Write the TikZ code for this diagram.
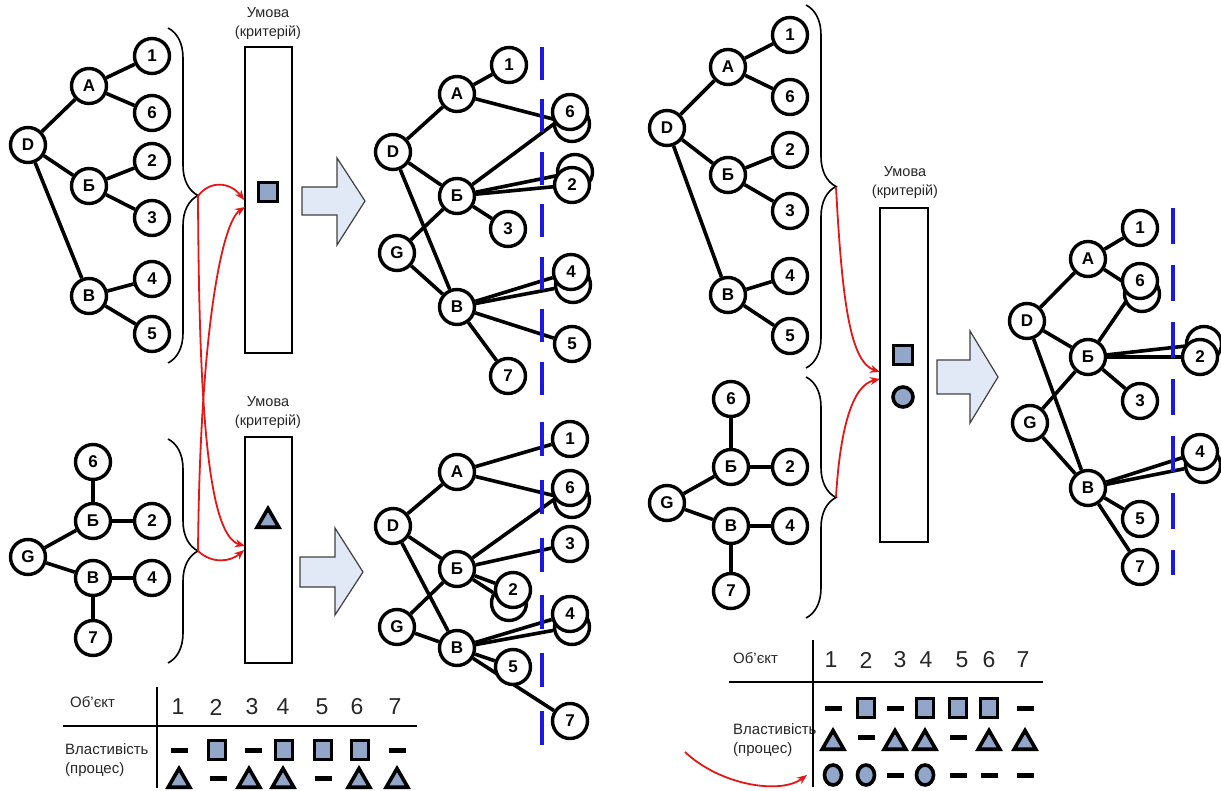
\documentclass[tikz,border=0pt]{standalone}
\usepackage{fontspec}
\setmainfont{Liberation Sans}
\usetikzlibrary{shapes.geometric,decorations.pathreplacing,backgrounds,arrows.meta}
\definecolor{synij}{RGB}{25,25,225}
\definecolor{syzyi}{RGB}{146,166,202}
\definecolor{blakyt}{RGB}{226,233,246}
\definecolor{chervonyi}{RGB}{228,22,22}

\begin{document}
\begin{tikzpicture}[x=1pt,y=-1pt]
\tikzset{vuzol/.style={draw, circle, line width=3.4pt, fill=white, minimum size=35pt, inner sep=0pt, font=\fontsize{17}{17}\selectfont\bfseries},
  vitka/.style={line width=3.6pt},
  ramka/.style={draw, line width=1.5pt, fill=white, minimum width=47pt, inner sep=0pt},
  pidpys/.style={align=center, inner sep=0pt, text=black!85, font=\fontsize{14.5}{19}\selectfont},
  napys/.style={anchor=west, align=left, inner sep=0pt, text=black!85, font=\fontsize{15}{19}\selectfont},
  chyslo/.style={inner sep=0pt, text=black!85, font=\fontsize{23}{23}\selectfont},
  kvadrat/.style={draw, fill=syzyi, line width=3.6pt, minimum width=17pt, minimum height=19pt, inner sep=0pt},
  trykutnyk/.style={draw, fill=syzyi, line width=3.6pt, regular polygon, regular polygon sides=3, minimum size=25pt, inner sep=0pt},
  kolo/.style={draw, fill=syzyi, line width=3.6pt, ellipse, minimum width=17pt, minimum height=20pt, inner sep=0pt},
  rysochka/.style={fill=black, minimum width=17pt, minimum height=5pt, inner sep=0pt},
  duzhka/.style={decorate, decoration={brace, amplitude=30pt}, line width=1.6pt},
  chervona/.style={draw=chervonyi, line width=1.8pt, -{Stealth[length=10pt, width=8pt]}},
  mezha/.style={draw=synij, line width=4pt, dash pattern=on 33pt off 19.5pt},
  strilka/.style={draw=black!75, line width=1.2pt, fill=blakyt},
  liniia/.style={line width=2pt}}
\useasboundingbox (0,0) rectangle (1221,791);

% left: tree D
\node[vuzol] (aD) at (28,145) {D};
\node[vuzol] (aA) at (89,86) {А};
\node[vuzol] (aB) at (89,186) {Б};
\node[vuzol] (aV) at (89,296) {В};
\node[vuzol] (a1) at (152,56) {1};
\node[vuzol] (a6) at (152,113) {6};
\node[vuzol] (a2) at (152,161) {2};
\node[vuzol] (a3) at (152,218) {3};
\node[vuzol] (a4) at (152,279) {4};
\node[vuzol] (a5) at (152,334) {5};
% left: tree G
\node[vuzol] (bG) at (28,557) {G};
\node[vuzol] (b6) at (93,462) {6};
\node[vuzol] (bB) at (93,521) {Б};
\node[vuzol] (bV) at (93,578) {В};
\node[vuzol] (b7) at (93,638) {7};
\node[vuzol] (b2) at (152,521) {2};
\node[vuzol] (b4) at (152,578) {4};

\draw[duzhka] (168,28) -- (168,363);
\draw[duzhka] (168,439) -- (168,663);
\coordinate (vershyna1) at (198,196);
\coordinate (vershyna2) at (198,551);

% criteria
\node[pidpys] (um1) at (268,24) {Умова\\(критерій)};
\node[ramka, minimum height=306pt] (kr1) at (268.5,200) {};
\node[kvadrat, minimum width=19pt] (kr1s) at (268,192) {};
\node[pidpys] (um2) at (268,413) {Умова\\(критерій)};
\node[ramka, minimum height=226pt] (kr2) at (268.5,550) {};
\node[trykutnyk] (kr2t) at (268,521) {};
\coordinate (vhid1) at (245,207);
\coordinate (vhid2) at (245,546);
\draw[chervona] (vershyna1) .. controls (210,180) and (230,182) .. (kr1.west);
\draw[chervona] (vershyna1) .. controls (199,400) and (207,535) .. (vhid2);
\draw[chervona] (vershyna2) .. controls (200,330) and (222,222) .. (vhid1);
\draw[chervona] (vershyna2) .. controls (212,564) and (230,562) .. (kr2.west);

\draw[strilka] (302,187) -- (337,187) -- (337,158) -- (365,201) -- (337,245) -- (337,215) -- (302,215) -- cycle;
\draw[strilka] (300,557) -- (335,557) -- (335,528) -- (363,572) -- (335,615) -- (335,587) -- (300,587) -- cycle;

% result by square
\node[vuzol] (cD) at (393,152) {D};
\node[vuzol] (cG) at (397,253) {G};
\node[vuzol] (cA) at (457,94) {А};
\node[vuzol] (cB) at (457,196) {Б};
\node[vuzol] (cV) at (457,307) {В};
\node[vuzol] (c1) at (509,65) {1};
\node[vuzol] (c3) at (508,229) {3};
\node[vuzol] (c7) at (508,376) {7};
\node[vuzol] (c6x) at (572,124) {};
\node[vuzol] (c6) at (570,112) {6};
\node[vuzol] (c2x) at (575,172) {};
\node[vuzol] (c2) at (572,185) {2};
\node[vuzol] (c4x) at (573,285) {};
\node[vuzol] (c4) at (571,272) {4};
\node[vuzol] (c5) at (572,344) {5};
\draw[mezha] (542,47) -- (542,395);

% result by triangle
\node[vuzol] (dD) at (393,526) {D};
\node[vuzol] (dG) at (397,627) {G};
\node[vuzol] (dA) at (457,472) {А};
\node[vuzol] (dB) at (457,569) {Б};
\node[vuzol] (dV) at (457,648) {В};
\node[vuzol] (d1) at (570,439) {1};
\node[vuzol] (d6x) at (572,500) {};
\node[vuzol] (d6) at (570,488) {6};
\node[vuzol] (d3) at (570,544) {3};
\node[vuzol] (d2x) at (509,603) {};
\node[vuzol] (d2) at (513,590) {2};
\node[vuzol] (d4x) at (572,627) {};
\node[vuzol] (d4) at (570,614) {4};
\node[vuzol] (d5) at (513,667) {5};
\node[vuzol] (d7) at (570,721) {7};
\draw[mezha, dash pattern=on 34pt off 23.8pt] (542,422) -- (542,745);

% left table
\node[napys] (ob1) at (70,702) {Об’єкт};
\node[napys] (vl1) at (65,760) {Властивість\\(процес)};
\draw[liniia] (63,726) -- (417,726);
\draw[liniia] (157,687) -- (157,788);
\node[chyslo] (n1) at (178,707) {1}; \node[chyslo] (n2) at (216,707) {2};
\node[chyslo] (n3) at (252,707) {3}; \node[chyslo] (n4) at (283,707) {4};
\node[chyslo] (n5) at (322,707) {5}; \node[chyslo] (n6) at (357,707) {6};
\node[chyslo] (n7) at (395,707) {7};
\node[rysochka] (k1) at (179,750) {}; \node[kvadrat] (k2) at (217,750) {};
\node[rysochka] (k3) at (253,750) {}; \node[kvadrat] (k4) at (284,750) {};
\node[kvadrat] (k5) at (323,750) {}; \node[kvadrat] (k6) at (360,750) {};
\node[rysochka] (k7) at (397,750) {};
\node[trykutnyk] (t1) at (179,781) {}; \node[rysochka] (t2) at (218,778) {};
\node[trykutnyk] (t3) at (249,781) {}; \node[trykutnyk] (t4) at (283,781) {};
\node[rysochka] (t5) at (323,778) {}; \node[trykutnyk] (t6) at (359,781) {};
\node[trykutnyk] (t7) at (397,781) {};

% right: tree D
\node[vuzol] (eD) at (667,128) {D};
\node[vuzol] (eA) at (728,67) {А};
\node[vuzol] (eB) at (728,175) {Б};
\node[vuzol] (eV) at (728,295) {В};
\node[vuzol] (e1) at (790,35) {1};
\node[vuzol] (e6) at (790,97) {6};
\node[vuzol] (e2) at (790,150) {2};
\node[vuzol] (e3) at (790,211) {3};
\node[vuzol] (e4) at (790,276) {4};
\node[vuzol] (e5) at (790,336) {5};
% right: tree G
\node[vuzol] (fG) at (667,503) {G};
\node[vuzol] (f6) at (731,399) {6};
\node[vuzol] (fB) at (731,467) {Б};
\node[vuzol] (fV) at (731,526) {В};
\node[vuzol] (f7) at (731,591) {7};
\node[vuzol] (f2) at (790,467) {2};
\node[vuzol] (f4) at (790,526) {4};

\draw[duzhka] (806,5) -- (806,368);
\draw[duzhka] (806,377) -- (806,618);
\coordinate (vershyna3) at (836,187);
\coordinate (vershyna4) at (836,497);

\node[pidpys] (um3) at (905,183) {Умова\\(критерій)};
\node[ramka, minimum width=48pt, minimum height=334pt] (kr3) at (904,375) {};
\node[kvadrat, minimum width=19pt] (kr3s) at (903,355) {};
\node[kolo, minimum width=20pt, minimum height=20pt] (kr3k) at (903,397) {};
\coordinate (vhid3) at (880,372);
\coordinate (vhid4) at (880,379);
\draw[chervona] (vershyna3) .. controls (842,300) and (850,362) .. (vhid3);
\draw[chervona] (vershyna4) .. controls (840,430) and (852,385) .. (vhid4);

\draw[strilka] (937,360) -- (970,360) -- (970,331) -- (998,377) -- (970,423) -- (970,394) -- (937,394) -- cycle;

% result by square and circle
\node[vuzol] (gD) at (1027,321) {D};
\node[vuzol] (gG) at (1030,423) {G};
\node[vuzol] (gA) at (1088,259) {А};
\node[vuzol] (gB) at (1088,357) {Б};
\node[vuzol] (gV) at (1088,488) {В};
\node[vuzol] (g1) at (1140,228) {1};
\node[vuzol] (g6x) at (1142,294) {};
\node[vuzol] (g6) at (1140,281) {6};
\node[vuzol] (g3) at (1140,401) {3};
\node[vuzol] (g5) at (1140,519) {5};
\node[vuzol] (g7) at (1140,567) {7};
\node[vuzol] (g2x) at (1204,344) {};
\node[vuzol] (g2) at (1200,357) {2};
\node[vuzol] (g4x) at (1203,465) {};
\node[vuzol] (g4) at (1200,452) {4};
\draw[mezha, dash pattern=on 36pt off 21pt] (1173,208) -- (1173,575);

% right table
\node[napys] (ob2) at (733,658) {Об’єкт};
\node[napys] (vl2) at (733,740) {Властивість\\(процес)};
\draw[liniia] (729,682) -- (1043,682);
\draw[liniia] (813,640) -- (813,787);
\node[chyslo] (m1) at (831,660) {1}; \node[chyslo] (m2) at (866,660) {2};
\node[chyslo] (m3) at (900,660) {3}; \node[chyslo] (m4) at (926,660) {4};
\node[chyslo] (m5) at (962,660) {5}; \node[chyslo] (m6) at (989,660) {6};
\node[chyslo] (m7) at (1023,660) {7};
\node[rysochka] (q1) at (833,708) {}; \node[kvadrat] (q2) at (866,708) {};
\node[rysochka] (q3) at (895,708) {}; \node[kvadrat] (q4) at (925,708) {};
\node[kvadrat] (q5) at (958,708) {}; \node[kvadrat] (q6) at (989,708) {};
\node[rysochka] (q7) at (1025,708) {};
\node[trykutnyk] (u1) at (833,743) {}; \node[rysochka] (u2) at (866,737) {};
\node[trykutnyk] (u3) at (895,743) {}; \node[trykutnyk] (u4) at (925,743) {};
\node[rysochka] (u5) at (958,737) {}; \node[trykutnyk] (u6) at (989,743) {};
\node[trykutnyk] (u7) at (1025,743) {};
\node[kolo] (o1) at (833,775) {}; \node[kolo] (o2) at (866,775) {};
\node[rysochka] (o3) at (895,775) {}; \node[kolo] (o4) at (925,775) {};
\node[rysochka] (o5) at (958,775) {}; \node[rysochka] (o6) at (989,775) {};
\node[rysochka] (o7) at (1025,775) {};
\coordinate (pochatok) at (685,752);
\coordinate (kinets) at (807,775);
\draw[chervona] (pochatok) .. controls (720,785) and (780,795) .. (kinets);

\begin{scope}[on background layer]
\draw[vitka] (aD) -- (aA); \draw[vitka] (aD) -- (aB); \draw[vitka] (aD) -- (aV);
\draw[vitka] (aA) -- (a1); \draw[vitka] (aA) -- (a6);
\draw[vitka] (aB) -- (a2); \draw[vitka] (aB) -- (a3);
\draw[vitka] (aV) -- (a4); \draw[vitka] (aV) -- (a5);
\draw[vitka] (bG) -- (bB); \draw[vitka] (bG) -- (bV);
\draw[vitka] (bB) -- (b6); \draw[vitka] (bB) -- (b2);
\draw[vitka] (bV) -- (b4); \draw[vitka] (bV) -- (b7);
\draw[vitka] (cD) -- (cA); \draw[vitka] (cD) -- (cB); \draw[vitka] (cD) -- (cV);
\draw[vitka] (cG) -- (cB); \draw[vitka] (cG) -- (cV);
\draw[vitka] (cA) -- (c1); \draw[vitka] (cA) -- (c6x);
\draw[vitka] (cB) -- (c6); \draw[vitka] (cB) -- (c2x); \draw[vitka] (cB) -- (c2); \draw[vitka] (cB) -- (c3);
\draw[vitka] (cV) -- (c4); \draw[vitka] (cV) -- (c4x); \draw[vitka] (cV) -- (c5); \draw[vitka] (cV) -- (c7);
\draw[vitka] (dD) -- (dA); \draw[vitka] (dD) -- (dB); \draw[vitka] (dD) -- (dV);
\draw[vitka] (dG) -- (dB); \draw[vitka] (dG) -- (dV);
\draw[vitka] (dA) -- (d1); \draw[vitka] (dA) -- (d6x);
\draw[vitka] (dB) -- (d6); \draw[vitka] (dB) -- (d3); \draw[vitka] (dB) -- (d2); \draw[vitka] (dB) -- (d2x);
\draw[vitka] (dV) -- (d4); \draw[vitka] (dV) -- (d4x); \draw[vitka] (dV) -- (d5); \draw[vitka] (dV) -- (d7);
\draw[vitka] (eD) -- (eA); \draw[vitka] (eD) -- (eB); \draw[vitka] (eD) -- (eV);
\draw[vitka] (eA) -- (e1); \draw[vitka] (eA) -- (e6);
\draw[vitka] (eB) -- (e2); \draw[vitka] (eB) -- (e3);
\draw[vitka] (eV) -- (e4); \draw[vitka] (eV) -- (e5);
\draw[vitka] (fG) -- (fB); \draw[vitka] (fG) -- (fV);
\draw[vitka] (fB) -- (f6); \draw[vitka] (fB) -- (f2);
\draw[vitka] (fV) -- (f4); \draw[vitka] (fV) -- (f7);
\draw[vitka] (gD) -- (gA); \draw[vitka] (gD) -- (gB); \draw[vitka] (gD) -- (gV);
\draw[vitka] (gG) -- (gB); \draw[vitka] (gG) -- (gV);
\draw[vitka] (gA) -- (g1); \draw[vitka] (gA) -- (g6x);
\draw[vitka] (gB) -- (g6); \draw[vitka] (gB) -- (g2x); \draw[vitka] (gB) -- (g2); \draw[vitka] (gB) -- (g3);
\draw[vitka] (gV) -- (g4); \draw[vitka] (gV) -- (g4x); \draw[vitka] (gV) -- (g5); \draw[vitka] (gV) -- (g7);
\end{scope}
\end{tikzpicture}
\end{document}
